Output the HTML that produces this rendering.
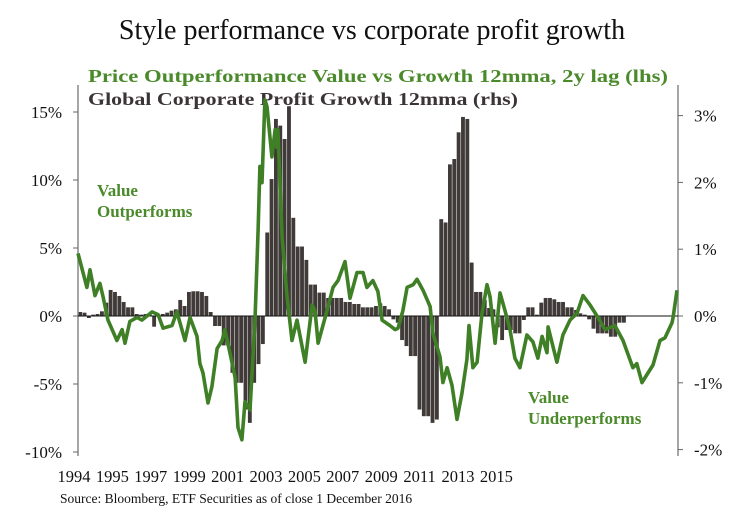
<!DOCTYPE html>
<html><head><meta charset="utf-8">
<style>
html,body{margin:0;padding:0;background:#fff;}
svg{display:block;font-family:"Liberation Serif",serif;}
</style></head>
<body>
<svg id="chart" width="743" height="514" viewBox="0 0 743 514" xmlns="http://www.w3.org/2000/svg">
<rect width="743" height="514" fill="#fff"/>
<text x="372" y="39" font-size="28" text-anchor="middle" fill="#111">Style performance vs corporate profit growth</text>
<text x="88" y="82" font-size="18" font-weight="bold" fill="#4a8a2a" textLength="580" lengthAdjust="spacingAndGlyphs">Price Outperformance Value vs Growth 12mma, 2y lag (lhs)</text>
<text x="88" y="105" font-size="18" font-weight="bold" fill="#3a3436" textLength="430" lengthAdjust="spacingAndGlyphs">Global Corporate Profit Growth 12mma (rhs)</text>
<g id="bars"></g>
<g id="axes"></g>
<g id="line"></g>
<text x="97" y="196" font-size="17" font-weight="bold" fill="#4a8a2a">Value</text>
<text x="97" y="217" font-size="17" font-weight="bold" fill="#4a8a2a">Outperforms</text>
<text x="528" y="403" font-size="17" font-weight="bold" fill="#4a8a2a">Value</text>
<text x="528" y="424" font-size="17" font-weight="bold" fill="#4a8a2a">Underperforms</text>
<text x="60" y="503" font-size="13.5" fill="#111">Source: Bloomberg, ETF Securities as of close 1 December 2016</text>
</svg>
<script>
const leftTicks = [15, 10, 5, 0, -5, -10];
const leftTickLabels = ["15%", "10%", "5%", "0%", "-5%", "-10%"];
const rightTicks = [3, 2, 1, 0, -1, -2];
const rightTickLabels = ["3%", "2%", "1%", "0%", "-1%", "-2%"];
const xLabels = ["1994","1995","1997","1999","2001","2003","2005","2007","2009","2011","2013","2015"];
const barStart = 1994.0;
const barStep = 1/6;
const profitGrowth = [0.06,0.05,-0.03,0.02,0.03,0.07,0.2,0.39,0.36,0.3,0.21,0.13,0.13,0.03,0.02,0.03,0.02,-0.16,0.02,0.03,
0.05,0.08,0.1,0.24,0.15,0.36,0.37,0.37,0.36,0.3,0.06,-0.15,-0.15,-0.44,-0.44,-0.85,-1.0,-1.0,-1.4,-1.6,
-1.0,-0.72,-0.42,1.25,2.05,2.95,2.85,2.65,3.14,1.47,1.04,1.04,0.84,0.47,0.47,0.35,0.35,0.27,0.27,0.27,
0.27,0.21,0.21,0.18,0.18,0.13,0.13,0.13,0.15,0.19,0.15,0.1,-0.05,-0.1,-0.36,-0.45,-0.6,-0.6,-1.4,-1.5,
-1.5,-1.6,-1.55,1.45,1.4,2.27,2.35,2.75,2.98,2.95,0.8,0.36,0.36,0.24,0.12,0.1,-0.17,-0.36,-0.21,-0.21,
-0.26,-0.26,-0.06,0.13,0.13,0.02,0.2,0.27,0.27,0.25,0.21,0.21,0.13,0.13,0.09,0.04,0.02,-0.05,-0.19,-0.26,
-0.26,-0.26,-0.31,-0.31,-0.1,-0.1];
const lineYears = [1994.0,1994.34,1994.46,1994.65,1994.84,1994.96,1995.15,1995.49,1995.69,1995.8,1995.99,1996.26,1996.45,1996.84,1997.07,1997.26,1997.6,1997.79,1998.1,1998.29,1998.56,1998.67,1998.79,1998.98,1999.13,1999.33,1999.52,1999.63,1999.82,2000.02,2000.13,2000.28,2000.4,2000.59,2000.78,2000.9,2000.97,2001.05,2001.16,2001.24,2001.43,2001.55,2001.62,2001.66,2001.82,2002.01,2002.2,2002.39,2002.7,2002.97,2003.08,2003.2,2003.54,2003.77,2003.96,2004.23,2004.42,2004.69,2004.92,2005.07,2005.3,2005.49,2005.65,2005.95,2006.15,2006.26,2006.45,2006.61,2006.84,2006.99,2007.22,2007.49,2007.6,2007.87,2007.98,2008.14,2008.33,2008.52,2008.71,2008.9,2008.98,2009.13,2009.29,2009.48,2009.67,2009.79,2009.98,2010.17,2010.36,2010.55,2010.74,2010.93,2011.2,2011.43,2011.62,2011.78,2011.97,2012.01,2012.35,2012.58,2012.85,2013.12,2013.35,2013.62,2013.92,2014.19,2014.57,2014.88,2015.26,2015.41,2015.61,2015.8,2016.03,2016.3,2016.49,2016.76,2016.8,2016.95];
const valueVsGrowth = [4.6,2.1,3.4,1.5,2.4,1.4,-0.3,-1.8,-1.0,-2.0,-0.4,-0.1,-0.3,0.3,0.1,-0.9,-0.7,0.3,-1.8,-0.1,-1.5,-3.5,-4.2,-6.4,-5.2,-2.4,-1.8,-1.0,-2.7,-4.5,-8.2,-9.1,-6.3,-6.9,-0.3,6.3,11.0,9.8,15.9,15.4,11.7,13.7,12.4,13.7,5.8,1.4,-1.8,-0.3,-3.4,0.8,0.4,-2.0,0.4,2.1,2.6,4.0,1.3,3.2,3.2,2.1,2.6,1.8,-0.3,-0.7,-1.0,-0.9,0.4,2.1,2.3,2.7,1.9,0.7,-1.3,-3.0,-4.9,-3.8,-5.1,-7.6,-5.7,-3.2,-0.7,-3.8,-3.4,0.2,2.3,1.4,-2.0,1.7,0.4,-1.0,-3.1,-3.8,-1.4,-1.9,-3.1,-1.5,-2.7,-0.8,-3.4,-1.4,-0.3,0.2,1.5,0.8,-0.1,-1.0,-0.7,-1.8,-3.8,-3.5,-4.9,-4.3,-3.6,-1.8,-1.6,-0.5,-0.1,1.9];

const NS = "http://www.w3.org/2000/svg";
const X0 = 78, X1 = 678, Y0 = 316;
function xScale(yr){ return X0 + (yr - 1994) * 26.1; }
function yLeft(v){ return Y0 - v * 13.6; }
function yRight(v){ return Y0 - v * 66.8; }
function mk(tag, attrs, parent){ const e = document.createElementNS(NS, tag); for (const k in attrs) e.setAttribute(k, attrs[k]); parent.appendChild(e); return e; }

const barsG = document.getElementById('bars');
profitGrowth.forEach((v, i) => {
  const xa = xScale(barStart + i * barStep);
  const xb = xScale(barStart + (i + 1) * barStep);
  const y = yRight(v);
  const r = mk('rect', {x: xa + 0.25, y: Math.min(y, Y0), width: Math.max(0.5, xb - xa - 0.5), height: Math.abs(Y0 - y), fill: '#403a38'}, barsG);
  
  
});

const ax = document.getElementById('axes');
let e;
e = mk('line', {x1: X0, y1: 85, x2: X0, y2: 456, stroke: '#888', 'stroke-width': 1.5}, ax);
 
e = mk('line', {x1: X1, y1: 85, x2: X1, y2: 456, stroke: '#888', 'stroke-width': 1.5}, ax);
 
e = mk('line', {x1: X0, y1: Y0, x2: X1, y2: Y0, stroke: '#111', 'stroke-width': 1}, ax);
 
leftTicks.forEach((v, i) => {
  const y = yLeft(v);
  mk('line', {x1: X0 - 5, y1: y, x2: X0, y2: y, stroke: '#666'}, ax);
  const t = mk('text', {x: 62, y: y + 6, 'font-size': 17, 'text-anchor': 'end', fill: '#111'}, ax);
  t.textContent = leftTickLabels[i];
  
  
});
rightTicks.forEach((v, i) => {
  const y = yRight(v);
  mk('line', {x1: X1, y1: y, x2: X1 + 5, y2: y, stroke: '#666'}, ax);
  const t = mk('text', {x: 694, y: y + 6, 'font-size': 17, fill: '#111'}, ax);
  t.textContent = rightTickLabels[i];
  
  
});
xLabels.forEach((s, i) => {
  const t = mk('text', {x: 74 + i * 38.4, y: 482, 'font-size': 16.5, 'text-anchor': 'middle', fill: '#111'}, ax);
  t.textContent = s;
  
  
});

const lineG = document.getElementById('line');
const d = lineYears.map((yr, i) => (i ? 'L' : 'M') + xScale(yr).toFixed(1) + ' ' + yLeft(valueVsGrowth[i]).toFixed(1)).join(' ');
const p = mk('path', {d: d, fill: 'none', stroke: '#3f7f25', 'stroke-width': 3.6, 'stroke-linejoin': 'round'}, lineG);


</script>
</body></html>
